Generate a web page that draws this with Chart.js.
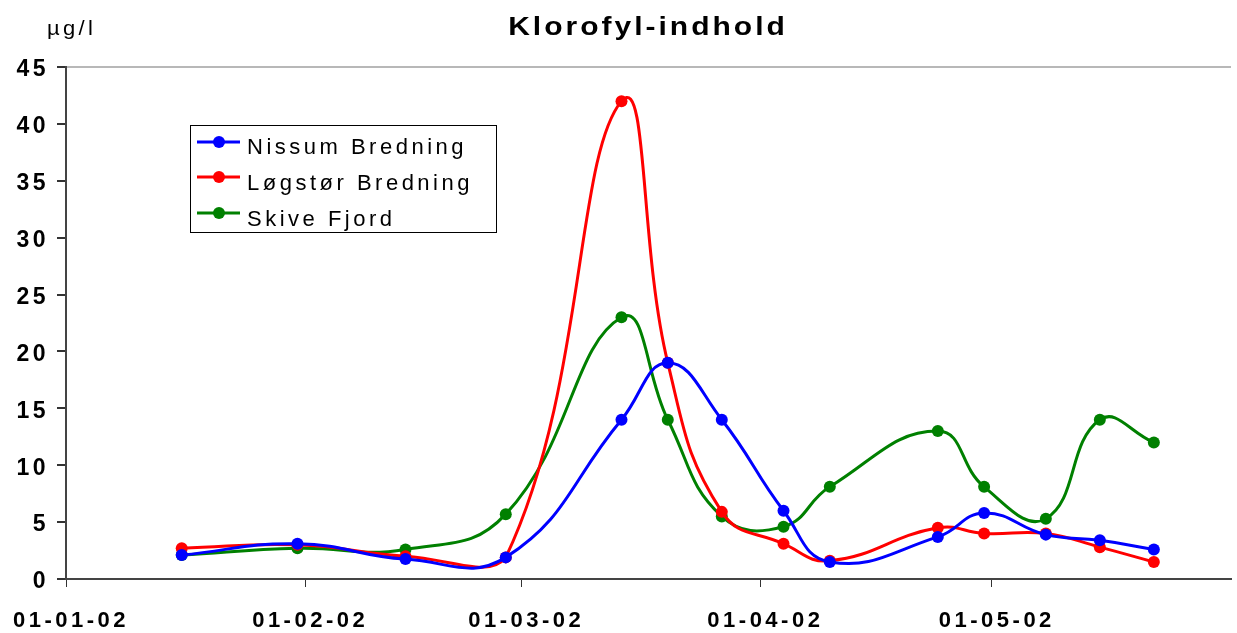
<!DOCTYPE html>
<html>
<head>
<meta charset="utf-8">
<script src="https://cdn.jsdelivr.net/npm/chart.js@4/dist/chart.umd.min.js"></script>
<style>
  html, body { margin: 0; padding: 0; background: #fff; }
  #wrap { width: 1237px; height: 633px; }
</style>
</head>
<body>
<div id="wrap"><canvas id="myChart" width="1237" height="633"></canvas></div>
<script>
// sample dates (dd-mm-yy on the axis)
var dates = ['2002-01-16', '2002-01-31', '2002-02-14', '2002-02-27', '2002-03-14', '2002-03-20', '2002-03-27',
             '2002-04-04', '2002-04-10', '2002-04-24', '2002-04-30', '2002-05-08', '2002-05-15', '2002-05-22'];
var nissum = [2.1, 3.1, 1.75, 1.9, 14, 19, 14, 6, 1.5, 3.7, 5.8, 3.9, 3.4, 2.6];
var logstor = [2.7, 3.0, 2.0, 1.9, 42, 19, 5.9, 3.1, 1.6, 4.5, 4.0, 4.0, 2.8, 1.5];
var skive = [2.1, 2.7, 2.6, 5.7, 23, 14, 5.5, 4.6, 8.1, 13, 8.1, 5.3, 14, 12];
var seriesNames = ['Nissum Bredning', 'Løgstør Bredning', 'Skive Fjord'];
var tickDates = ['2002-01-01', '2002-02-01', '2002-03-01', '2002-04-01', '2002-05-01'];
var yTicks = [0, 5, 10, 15, 20, 25, 30, 35, 40, 45];
var colors = ['#0000ff', '#ff0000', '#008000'];

function dayNum(s) {
  var p = s.split('-');
  return (Date.UTC(+p[0], +p[1] - 1, +p[2]) - Date.UTC(2002, 0, 1)) / 86400000;
}
function fmtDate(d) {
  var dt = new Date(Date.UTC(2002, 0, 1) + d * 86400000);
  var dd = ('0' + dt.getUTCDate()).slice(-2);
  var mm = ('0' + (dt.getUTCMonth() + 1)).slice(-2);
  var yy = ('' + dt.getUTCFullYear()).slice(-2);
  return dd + '-' + mm + '-' + yy;
}
function pts(vals) {
  return vals.map(function (v, i) { return { x: dayNum(dates[i]), y: v }; });
}

var allSeries = [nissum, logstor, skive];
var datasets = allSeries.map(function (vals, i) {
  return {
    label: seriesNames[i],
    data: pts(vals),
    borderColor: colors[i],
    backgroundColor: colors[i],
    borderWidth: 3,
    pointRadius: 6,
    pointBorderWidth: 0,
    tension: 0.45,
    order: i + 1
  };
});

var FONT = '"Liberation Sans", Arial, sans-serif';

// text that is a bit wider than the font, like the original export
function wideText(ctx, txt, x, y, sx, align) {
  ctx.save();
  ctx.translate(x, y);
  ctx.scale(sx, 1);
  ctx.textAlign = align;
  ctx.fillText(txt, 0, 0);
  ctx.restore();
}

// title, unit label and the boxed legend
var extras = {
  id: 'extras',
  beforeDraw: function (chart) {
    chart.ctx.letterSpacing = '3.5px';
  },
  afterDraw: function (chart) {
    var ctx = chart.ctx;
    ctx.save();
    ctx.fillStyle = '#000';
    ctx.textBaseline = 'alphabetic';
    ctx.letterSpacing = '2.5px';
    ctx.font = 'bold 25px ' + FONT;
    wideText(ctx, 'Klorofyl-indhold', 648, 35, 1.2, 'center');

    ctx.letterSpacing = '3px';
    ctx.font = '20px ' + FONT;
    wideText(ctx, '\u00b5g/l', 47, 35, 1.1, 'left');

    // legend
    ctx.letterSpacing = '3.5px';
    ctx.strokeStyle = '#000';
    ctx.lineWidth = 1;
    ctx.strokeRect(190.5, 125.5, 306, 107);
    ctx.font = '22px ' + FONT;
    ctx.textAlign = 'left';
    var markY = [142, 177, 213];
    var textY = [154, 190, 226];
    for (var i = 0; i < seriesNames.length; i++) {
      ctx.strokeStyle = colors[i];
      ctx.lineWidth = 3;
      ctx.beginPath();
      ctx.moveTo(197, markY[i]);
      ctx.lineTo(240, markY[i]);
      ctx.stroke();
      ctx.fillStyle = colors[i];
      ctx.beginPath();
      ctx.arc(219, markY[i], 6, 0, Math.PI * 2);
      ctx.fill();
      ctx.fillStyle = '#000';
      ctx.fillText(seriesNames[i], 247, textY[i]);
    }
    ctx.restore();
  }
};

var ctx = document.getElementById('myChart');
var myChart = new Chart(ctx, {
  type: 'line',
  data: { datasets: datasets },
  options: {
    responsive: false,
    animation: false,
    layout: { padding: { left: 0, right: 0, top: 67, bottom: 0 } },
    plugins: {
      legend: { display: false },
      title: { display: false },
      tooltip: { enabled: false }
    },
    scales: {
      x: {
        type: 'linear',
        min: 0,
        max: 151,
        afterBuildTicks: function (axis) {
          axis.ticks = tickDates.map(function (d) { return { value: dayNum(d) }; });
        },
        afterFit: function (axis) { axis.height = 54; },
        ticks: {
          autoSkip: false,
          maxRotation: 0,
          padding: 21,
          labelOffset: 5,
          color: '#000',
          font: { family: FONT, size: 22, weight: 'bold' },
          callback: function (v) { return fmtDate(v); }
        },
        grid: { drawOnChartArea: false, drawTicks: true, tickLength: 8, tickColor: '#333', tickWidth: 1 },
        border: { color: '#444', width: 2 }
      },
      y: {
        min: 0,
        max: 45,
        afterBuildTicks: function (axis) {
          axis.ticks = yTicks.map(function (v) { return { value: v }; });
        },
        afterFit: function (axis) { axis.width = 66; },
        ticks: {
          padding: 8,
          labelOffset: 3,
          color: '#000',
          font: { family: FONT, size: 23, weight: 'bold' }
        },
        grid: {
          drawTicks: true,
          tickLength: 9,
          tickColor: '#333',
          lineWidth: 2,
          color: function (c) { return c.tick && c.tick.value === 45 ? '#b8b8b8' : 'rgba(0,0,0,0)'; }
        },
        border: { color: '#444', width: 2 }
      }
    }
  },
  plugins: [extras]
});
</script>
</body>
</html>
